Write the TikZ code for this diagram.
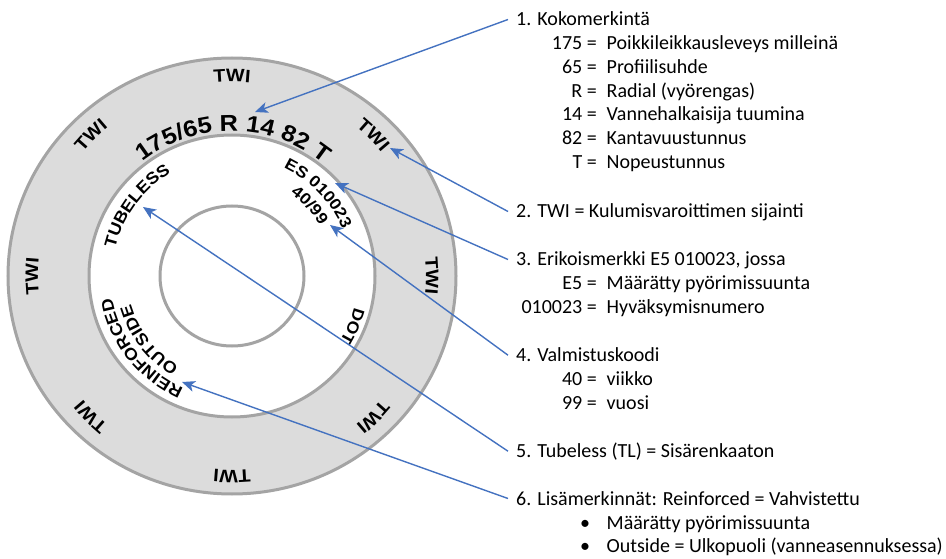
\documentclass[tikz,border=0pt]{standalone}
\usepackage{fontspec}
\setmainfont{Carlito}
\newfontfamily\tirefont{Liberation Sans}[FakeStretch=1.1]
\usetikzlibrary{decorations.text,arrows.meta,calc}
\definecolor{ringgray}{HTML}{DCDCDC}
\definecolor{edgegray}{HTML}{A4A4A4}
\definecolor{arrowblue}{HTML}{4472C0}
% #1 font size, #2 baseline radius, #3 centre angle, #4 half span, #5 text
\newcommand\tirelabel[5]{%
  \pgfmathsetmacro\tlS{#3+#4}\pgfmathsetmacro\tlE{#3-#4}%
  \path[decorate,decoration={text along path,text align=center,
    text={|\tirefont\bfseries\fontsize{#1}{#1}\selectfont|#5}}]
    ($(C)+(\tlS:#2)$) arc[start angle=\tlS,end angle=\tlE,radius=#2];}
\begin{document}
\begin{tikzpicture}[x=1pt,y=1pt,
  lbl/.style={inner sep=0pt,font=\fontsize{20}{24}\selectfont},
  ring/.style={draw=edgegray,line width=3pt},
  arr/.style={draw=arrowblue,line width=1.4pt,-{Stealth[length=13pt,width=11pt,inset=3.5pt]}}]
\useasboundingbox (0,0) rectangle (946,558);
\coordinate (C) at (232,282);
% tyre
\path[ring,fill=ringgray] (C) ellipse[x radius=224,y radius=218];
\path[ring,fill=white] (C) ellipse[x radius=143,y radius=141];
\path[ring] (C) ellipse[x radius=72,y radius=70];
% TWI marks
\foreach \a in {0,45,...,315}{%
  \tirelabel{18}{194}{\a}{25}{TWI}}
% sidewall texts
\tirelabel{23}{145}{89.5}{60}{175/65 R 14 82 T}
\tirelabel{16.5}{120}{143.7}{40}{TUBELESS}
\tirelabel{16}{120}{43.7}{35}{ES 010023}
\tirelabel{16}{101}{42.2}{35}{40/99}
\tirelabel{16}{126}{-22.7}{30}{DOT}
\tirelabel{16.5}{122}{218.5}{40}{REINFORCED}
\tirelabel{16.5}{105}{217.7}{40}{OUTSIDE}
% arrow targets
\coordinate (p1) at (255,446);
\coordinate (p2) at (390,410);
\coordinate (p3) at (335,375);
\coordinate (p4) at (330,333);
\coordinate (p5) at (143,351);
\coordinate (p6) at (182,176);
% legend
\node[lbl,anchor=base west] (t1) at (516,532) {1. Kokomerkintä};
\node[lbl,anchor=base east] (n11) at (597,508.5) {175 =};
\node[lbl,anchor=base west] (d11) at (606.5,508.5) {Poikkileikkausleveys milleinä};
\node[lbl,anchor=base east] (n12) at (597,484.7) {65 =};
\node[lbl,anchor=base west] (d12) at (606.5,484.7) {Profiilisuhde};
\node[lbl,anchor=base east] (n13) at (597,460.9) {R =};
\node[lbl,anchor=base west] (d13) at (606.5,460.9) {Radial (vyörengas)};
\node[lbl,anchor=base east] (n14) at (597,437.1) {14 =};
\node[lbl,anchor=base west] (d14) at (606.5,437.1) {Vannehalkaisija tuumina};
\node[lbl,anchor=base east] (n15) at (597,413.3) {82 =};
\node[lbl,anchor=base west] (d15) at (606.5,413.3) {Kantavuustunnus};
\node[lbl,anchor=base east] (n16) at (597,389.5) {T =};
\node[lbl,anchor=base west] (d16) at (606.5,389.5) {Nopeustunnus};
\node[lbl,anchor=base west] (t2) at (516,340) {2. TWI = Kulumisvaroittimen sijainti};
\node[lbl,anchor=base west] (t3) at (516,292) {3. Erikoismerkki E5 010023, jossa};
\node[lbl,anchor=base east] (n31) at (597,268.2) {E5 =};
\node[lbl,anchor=base west] (d31) at (606.5,268.2) {Määrätty pyörimissuunta};
\node[lbl,anchor=base east] (n32) at (597,244.4) {010023 =};
\node[lbl,anchor=base west] (d32) at (606.5,244.4) {Hyväksymisnumero};
\node[lbl,anchor=base west] (t4) at (516,196.3) {4. Valmistuskoodi};
\node[lbl,anchor=base east] (n41) at (597,172.5) {40 =};
\node[lbl,anchor=base west] (d41) at (606.5,172.5) {viikko};
\node[lbl,anchor=base east] (n42) at (597,148.7) {99 =};
\node[lbl,anchor=base west] (d42) at (606.5,148.7) {vuosi};
\node[lbl,anchor=base west] (t5) at (516,100.3) {5. Tubeless (TL) = Sisärenkaaton};
\node[lbl,anchor=base west] (t6) at (516,53) {6. Lisämerkinnät: Reinforced = Vahvistettu};
\node[lbl,anchor=base] (b1) at (585,29) {•};
\node[lbl,anchor=base west] (d61) at (606.5,29) {Määrätty pyörimissuunta};
\node[lbl,anchor=base] (b2) at (585,5.3) {•};
\node[lbl,anchor=base west] (d62) at (606.5,5.3) {Outside = Ulkopuoli (vanneasennuksessa)};
% connectors
\foreach \i in {1,...,6}{%
  \draw[arr] ([shift={(-8pt,6.5pt)}]t\i.base west) -- (p\i);}
\end{tikzpicture}
\end{document}
